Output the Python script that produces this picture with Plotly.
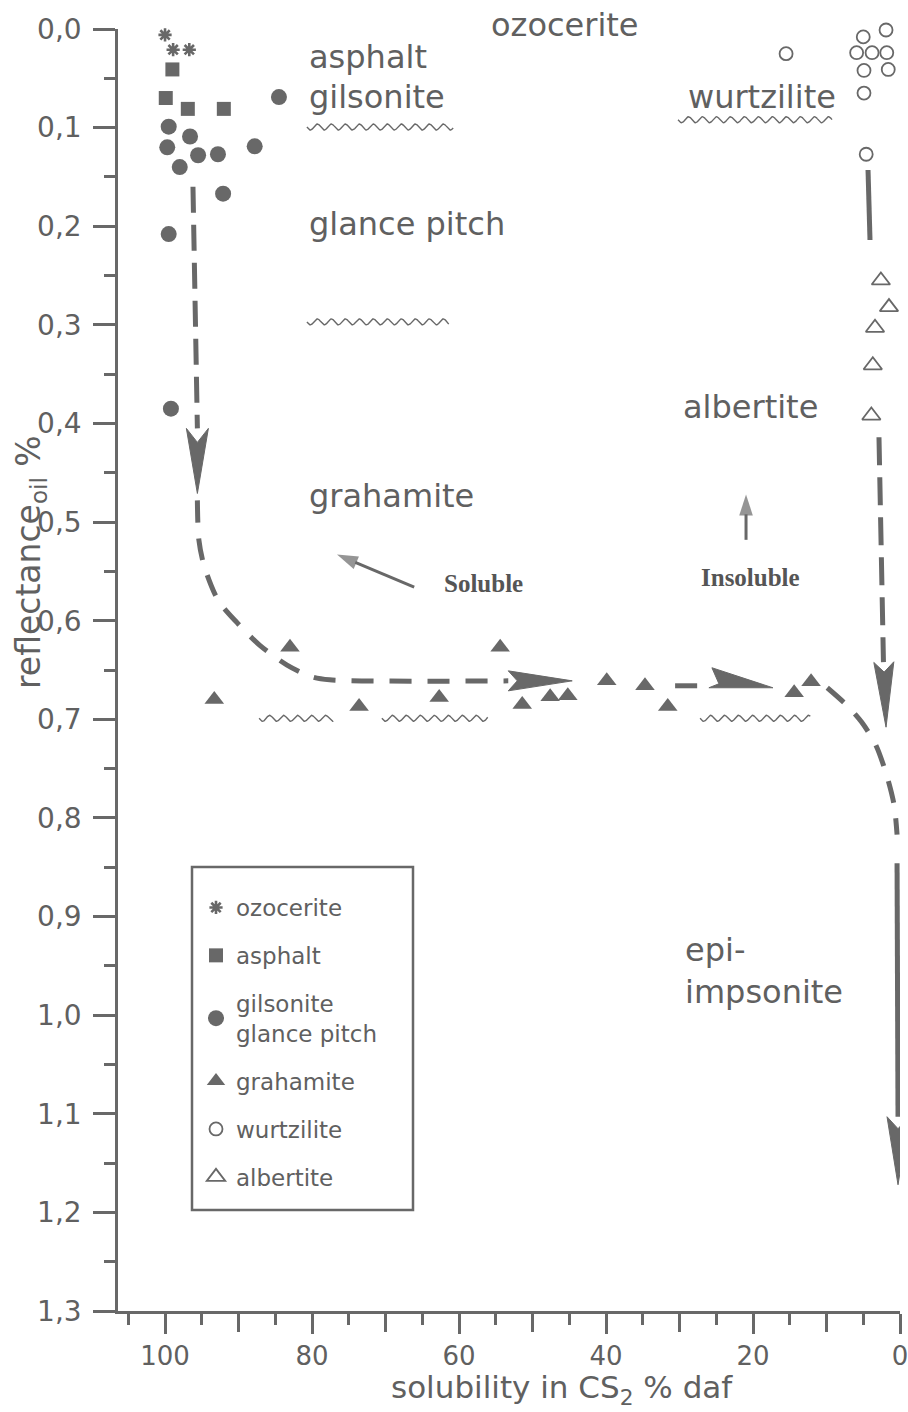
import math
import numpy as np
import plotly.graph_objects as go

# ---------------- data ----------------
ozocerite_x = [100.0, 98.9, 96.7]
ozocerite_y = [0.006, 0.021, 0.021]

asphalt_x = [99.0, 99.9, 96.9, 92.0]
asphalt_y = [0.041, 0.070, 0.081, 0.081]

gilsonite_x = [99.5, 96.6, 99.7, 98.0, 95.5, 92.8, 87.8, 84.5, 92.1, 99.5, 99.2]
gilsonite_y = [0.099, 0.109, 0.120, 0.140, 0.128, 0.127, 0.119, 0.069, 0.167, 0.208, 0.385]

grahamite_x = [83.0, 54.4, 93.3, 73.6, 62.7, 51.4, 47.6, 45.2, 39.9, 34.7, 31.6, 14.4, 12.1]
grahamite_y = [0.627, 0.627, 0.680, 0.687, 0.678, 0.685, 0.677, 0.676, 0.661, 0.666, 0.687, 0.673, 0.662]

wurtzilite_x = [1.9, 5.0, 5.9, 3.8, 1.8, 4.9, 1.6, 4.9, 4.6, 15.5]
wurtzilite_y = [0.001, 0.008, 0.024, 0.024, 0.024, 0.042, 0.041, 0.065, 0.127, 0.025]

albertite_x = [2.6, 1.5, 3.4, 3.7, 3.9]
albertite_y = [0.255, 0.282, 0.303, 0.341, 0.392]

# trend paths (soluble / insoluble)
sol_vert_x = [96.2, 95.6]
sol_vert_y = [0.160, 0.405]
sol_curve_x = [95.6, 95.4, 94.7, 92.8, 90.2, 87.1, 83.4, 80.0, 77.6, 53.3]
sol_curve_y = [0.478, 0.518, 0.544, 0.579, 0.602, 0.625, 0.645, 0.657, 0.660, 0.661]
mid_dash_x = [30.6, 27.6]
mid_dash_y = [0.666, 0.666]
right_curve_x = [9.9, 7.2, 5.2, 3.3, 1.8, 0.8, 0.4]
right_curve_y = [0.668, 0.686, 0.703, 0.726, 0.757, 0.787, 0.817]
bottom_solid_x = [0.4, 0.27]
bottom_solid_y = [0.846, 1.103]
insol_top_x = [4.35, 4.08]
insol_top_y = [0.143, 0.214]
insol_dash_x = [2.86, 2.25]
insol_dash_y = [0.414, 0.642]

# small pointer arrows next to "Soluble" / "Insoluble"
soluble_arrow_x = [66.1, 76.6]
soluble_arrow_y = [0.566, 0.533]
insoluble_arrow_x = [20.95, 20.95]
insoluble_arrow_y = [0.518, 0.472]

# arrowheads: tip x, tip y, back x, back y, half width px, notch px, side
arrow_tip_x = [95.6, 44.6, 17.3, 1.9, 0.27]
arrow_tip_y = [0.471, 0.661, 0.668, 0.708, 1.172]
arrow_back_x = [95.6, 53.3, 26.0, 2.2, 0.27]
arrow_back_y = [0.405, 0.661, 0.668, 0.642, 1.103]
arrow_half_w = [11, 10, 20, 10, 11]
arrow_notch = [14, 9, 0, 10, 12]
arrow_side = ["both", "both", "top", "both", "both"]

# boundary (wavy) lines: x start, x end, y
wavy_x0 = [80.7, 80.7, 30.2, 87.2, 70.5, 27.2]
wavy_x1 = [60.8, 61.4, 9.25, 77.1, 56.1, 12.2]
wavy_y = [0.0994, 0.297, 0.092, 0.699, 0.699, 0.699]

# text labels
label_text = ["asphalt", "gilsonite", "glance pitch", "grahamite",
              "wurtzilite", "albertite", "epi-<br>impsonite"]
label_x = [80.7, 80.7, 80.7, 80.7, 29.1, 29.8, 29.5]
label_y = [0.028, 0.069, 0.198, 0.474, 0.069, 0.383, 0.955]
ozocerite_label_x, ozocerite_label_y = 45.6, -0.004

y_ticks = [round(0.1 * i, 1) for i in range(14)]
y_ticktext = [f"{v:.1f}".replace(".", ",") for v in y_ticks]
x_label_ticks = list(range(0, 101, 20))
x_label_text = [str(v) for v in x_label_ticks]
x_mid_ticks = list(range(10, 100, 20))

# ---------------- geometry ----------------
X_MAX, Y_MAX = 106.4, 1.3
W, H = 908, 1412
ML, MR, MT, MB = 118, 8, 29, 101
PW, PH = W - ML - MR, H - MT - MB
XS, YS = PW / X_MAX, PH / Y_MAX

GRAY = "#686868"
TXT = "#606060"
FONT = "DejaVu Sans"


def to_px(x, y):
    return ((X_MAX - x) * XS, y * YS)


def from_px(px, py):
    return (X_MAX - px / XS, py / YS)


def px_to_paper(px, py):
    return ((px - ML) / PW, 1 - (py - MT) / PH)


def arrow_polygon(tx, ty, bx, by, hw, notch, side):
    tpx, tpy = to_px(tx, ty)
    bpx, bpy = to_px(bx, by)
    dx, dy = tpx - bpx, tpy - bpy
    L = math.hypot(dx, dy)
    ux, uy = dx / L, dy / L
    nx, ny = -uy, ux
    if side == "both":
        pts = [(tpx, tpy), (bpx + nx * hw, bpy + ny * hw),
               (bpx + ux * notch, bpy + uy * notch),
               (bpx - nx * hw, bpy - ny * hw), (tpx, tpy)]
    else:
        pts = [(tpx, tpy), (bpx - nx * hw + ux * 3, bpy - ny * hw + uy * 3),
               (bpx + ux * 10, bpy + uy * 10 - 4), (bpx, bpy), (tpx, tpy)]
    xs, ys = zip(*[from_px(*p) for p in pts])
    return list(xs), list(ys)


fig = go.Figure()

# ---------------- paths ----------------
path_line = dict(color=GRAY, width=5)
fig.add_trace(go.Scatter(x=sol_vert_x, y=sol_vert_y, mode="lines",
                         line=dict(path_line, dash="26px,12px"),
                         showlegend=False, hoverinfo="skip", cliponaxis=False))
fig.add_trace(go.Scatter(x=sol_curve_x, y=sol_curve_y, mode="lines",
                         line=dict(path_line, dash="22px,16px", shape="spline", smoothing=0.8),
                         showlegend=False, hoverinfo="skip", cliponaxis=False))
fig.add_trace(go.Scatter(x=mid_dash_x, y=mid_dash_y, mode="lines", line=path_line,
                         showlegend=False, hoverinfo="skip", cliponaxis=False))
fig.add_trace(go.Scatter(x=right_curve_x, y=right_curve_y, mode="lines",
                         line=dict(path_line, dash="22px,16px", shape="spline", smoothing=0.8),
                         showlegend=False, hoverinfo="skip", cliponaxis=False))
fig.add_trace(go.Scatter(x=bottom_solid_x, y=bottom_solid_y, mode="lines", line=path_line,
                         showlegend=False, hoverinfo="skip", cliponaxis=False))
fig.add_trace(go.Scatter(x=insol_top_x, y=insol_top_y, mode="lines", line=path_line,
                         showlegend=False, hoverinfo="skip", cliponaxis=False))
fig.add_trace(go.Scatter(x=insol_dash_x, y=insol_dash_y, mode="lines",
                         line=dict(path_line, dash="28px,12px"),
                         showlegend=False, hoverinfo="skip", cliponaxis=False))

for i in range(len(arrow_tip_x)):
    ax_, ay_ = arrow_polygon(arrow_tip_x[i], arrow_tip_y[i], arrow_back_x[i], arrow_back_y[i],
                             arrow_half_w[i], arrow_notch[i], arrow_side[i])
    fig.add_trace(go.Scatter(x=ax_, y=ay_, mode="lines", fill="toself", fillcolor=GRAY,
                             line=dict(color=GRAY, width=1),
                             showlegend=False, hoverinfo="skip", cliponaxis=False))

# small pointer arrows
for px_, py_ in [(soluble_arrow_x, soluble_arrow_y), (insoluble_arrow_x, insoluble_arrow_y)]:
    fig.add_trace(go.Scatter(x=px_, y=py_, mode="lines+markers",
                             line=dict(color=GRAY, width=3),
                             marker=dict(symbol="arrow", angleref="previous", size=[0, 22],
                                         color=GRAY, line=dict(width=0)),
                             showlegend=False, hoverinfo="skip", cliponaxis=False))

# wavy boundary lines (drawn on the overlay axis that carries the 10/30/.. ticks)
for x0, x1, y0 in zip(wavy_x0, wavy_x1, wavy_y):
    xs = np.linspace(x0, x1, 240)
    ys = y0 + (3.0 / YS) * np.sin(2 * np.pi * (x0 - xs) * XS / 14.0)
    fig.add_trace(go.Scatter(x=xs, y=ys, mode="lines", line=dict(color=GRAY, width=1.4),
                             xaxis="x2", showlegend=False, hoverinfo="skip"))

# ---------------- data markers ----------------
fig.add_trace(go.Scatter(x=ozocerite_x, y=ozocerite_y, mode="markers", name="ozocerite",
                         legendgroup="a",
                         marker=dict(symbol="asterisk-open", size=11, color=GRAY,
                                     line=dict(color=GRAY, width=2.6)),
                         cliponaxis=False))
fig.add_trace(go.Scatter(x=asphalt_x, y=asphalt_y, mode="markers", name="asphalt",
                         legendgroup="b",
                         marker=dict(symbol="square", size=14, color=GRAY), cliponaxis=False))
fig.add_trace(go.Scatter(x=gilsonite_x, y=gilsonite_y, mode="markers",
                         name="gilsonite<br>glance pitch", legendgroup="c",
                         marker=dict(symbol="circle", size=16, color=GRAY), cliponaxis=False))
fig.add_trace(go.Scatter(x=grahamite_x, y=grahamite_y, mode="markers", name="grahamite",
                         legendgroup="d",
                         marker=dict(symbol="triangle-up", size=17, color=GRAY), cliponaxis=False))
fig.add_trace(go.Scatter(x=wurtzilite_x, y=wurtzilite_y, mode="markers", name="wurtzilite",
                         legendgroup="e",
                         marker=dict(symbol="circle-open", size=13, color=GRAY,
                                     line=dict(color=GRAY, width=1.8)),
                         cliponaxis=False))
fig.add_trace(go.Scatter(x=albertite_x, y=albertite_y, mode="markers", name="albertite",
                         legendgroup="f",
                         marker=dict(symbol="triangle-up-open", size=16, color=GRAY,
                                     line=dict(color=GRAY, width=1.8)),
                         cliponaxis=False))

# ---------------- annotations ----------------
annotations = []
for t, x, y in zip(label_text, label_x, label_y):
    annotations.append(dict(x=x, y=y, xref="x", yref="y", text=t, showarrow=False,
                            xanchor="left", yanchor="middle", align="left",
                            font=dict(family=FONT, size=32, color=TXT)))
oz_px = to_px(ozocerite_label_x, ozocerite_label_y)
oz_paper = px_to_paper(oz_px[0] + ML, oz_px[1] + MT)
annotations.append(dict(x=oz_paper[0], y=oz_paper[1], xref="paper", yref="paper",
                        text="ozocerite", showarrow=False, xanchor="center", yanchor="middle",
                        font=dict(family=FONT, size=32, color=TXT)))

annotations.append(dict(x=56.7, y=0.562, xref="x", yref="y", text="<b>Soluble</b>",
                        showarrow=False, font=dict(family="Liberation Serif", size=25, color="#555")))
annotations.append(dict(x=20.4, y=0.556, xref="x", yref="y", text="<b>Insoluble</b>",
                        showarrow=False, font=dict(family="Liberation Serif", size=25, color="#555")))

yt = px_to_paper(30, 562)
annotations.append(dict(x=yt[0], y=yt[1], xref="paper", yref="paper",
                        text="reflectance<sub>oil</sub> %", textangle=-90, showarrow=False,
                        xanchor="center", yanchor="middle",
                        font=dict(family=FONT, size=33, color=TXT)))
xt = px_to_paper(562, 1389)
annotations.append(dict(x=xt[0], y=xt[1], xref="paper", yref="paper",
                        text="solubility in CS<sub>2</sub> % daf", showarrow=False,
                        xanchor="center", yanchor="middle",
                        font=dict(family=FONT, size=31, color=TXT)))

# legend frame
lb0 = px_to_paper(192, 867)
lb1 = px_to_paper(413, 1210)
shapes = [dict(type="rect", xref="paper", yref="paper", x0=lb0[0], y0=lb1[1], x1=lb1[0], y1=lb0[1],
               line=dict(color=GRAY, width=2.5), fillcolor="rgba(0,0,0,0)", layer="above")]

axis_common = dict(showgrid=False, zeroline=False, showline=True, linecolor=GRAY, linewidth=2.5,
                   ticks="outside", tickcolor=GRAY, tickwidth=2.5, automargin=False)

leg = px_to_paper(196, 886)
fig.update_layout(
    width=W, height=H, autosize=False,
    margin=dict(l=ML, r=MR, t=MT, b=MB, autoexpand=False),
    paper_bgcolor="white", plot_bgcolor="white",
    xaxis=dict(axis_common, range=[X_MAX, 0], autorange=False,
               tickfont=dict(family=FONT, size=26, color=TXT), ticklabeloverflow="allow",
               tickmode="array", tickvals=x_label_ticks, ticktext=x_label_text, ticklen=20,
               minor=dict(tickmode="linear", tick0=0, dtick=5, ticks="outside", ticklen=11,
                          tickcolor=GRAY, tickwidth=2.5)),
    xaxis2=dict(overlaying="x", matches="x", anchor="y", side="bottom",
                range=[X_MAX, 0], autorange=False, showline=False, showgrid=False,
                zeroline=False, showticklabels=False, automargin=False,
                tickmode="array", tickvals=x_mid_ticks, ticks="outside", ticklen=20,
                tickcolor=GRAY, tickwidth=2.5),
    yaxis=dict(axis_common, range=[Y_MAX, 0], autorange=False,
               tickfont=dict(family=FONT, size=28, color=TXT),
               tickmode="array", tickvals=y_ticks, ticktext=y_ticktext, ticklen=22,
               ticklabelstandoff=6,
               minor=dict(tickmode="linear", tick0=0, dtick=0.05, ticks="outside", ticklen=11,
                          tickcolor=GRAY, tickwidth=2.5)),
    legend=dict(x=leg[0], y=leg[1], xanchor="left", yanchor="top",
                bgcolor="rgba(0,0,0,0)", borderwidth=0,
                font=dict(family=FONT, size=23, color=TXT),
                tracegroupgap=15, itemwidth=30),
    annotations=annotations,
    shapes=shapes,
    showlegend=True,
)

fig.write_html("out.html", config={"displayModeBar": False, "responsive": False},
               post_script="document.body.style.margin='0';document.body.style.overflow='hidden';")
